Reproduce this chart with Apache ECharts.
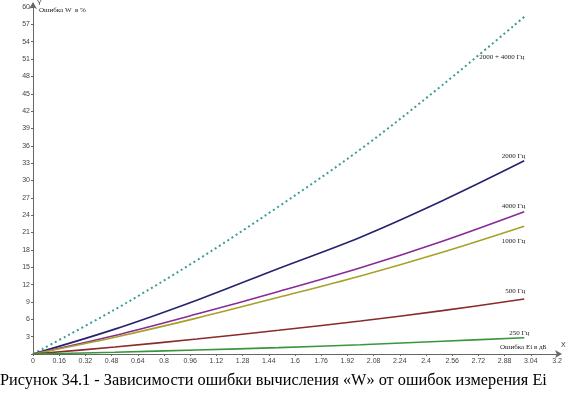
<!DOCTYPE html>
<html><head><meta charset="utf-8">
<script src="https://cdn.jsdelivr.net/npm/echarts@6/dist/echarts.min.js"></script>
<style>html,body{margin:0;padding:0;background:#fff}#c{width:568px;height:394px}</style>
</head><body><div id="c"></div>
<script>
const xValues = [0, 0.5, 1.0, 1.5, 2.0, 2.5, 3.0];
const s2000_4000 = [0, 7.7, 16.2, 25.5, 35.4, 46.5, 58.3];
const s2000 = [0, 4.3, 9.3, 14.8, 20.2, 26.5, 33.4];
const s4000 = [0, 3.2, 6.9, 10.8, 14.9, 19.5, 24.6];
const s1000 = [0, 2.9, 6.2, 9.8, 13.5, 17.6, 22.1];
const s500 = [0, 1.2, 2.6, 4.1, 5.7, 7.5, 9.5];
const s250 = [0, 0.3, 0.7, 1.1, 1.6, 2.2, 2.8];
const xTickLabels = ['0','0.16','0.32','0.48','0.64','0.8','0.96','1.12','1.28','1.44','1.6','1.76','1.92','2.08','2.24','2.4','2.56','2.72','2.88','3.04','3.2'];
const yTickLabels = ['','3','6','9','12','15','18','21','24','27','30','33','36','39','42','45','48','51','54','57','60'];

const pair = arr => xValues.map((x, i) => [x, arr[i]]);
const serif = '"Liberation Serif", "DejaVu Serif", serif';
const lblFont = {fontFamily: serif, fontSize: 7, color: '#222'};

function mk(name, data, color, lblText, offset, dotted) {
  return {
    type: 'line', name, data: pair(data), smooth: 0.35, symbol: 'none',
    lineStyle: {color, width: dotted ? 2 : 1.6, type: dotted ? [2, 3] : 'solid'},
    endLabel: {show: true, formatter: lblText, align: 'right', verticalAlign: 'middle',
      distance: 0, offset, ...lblFont},
    animation: false, z: 3
  };
}

const chart = echarts.init(document.getElementById('c'), null, {renderer: 'canvas'});
const axisCommon = {
  axisLine: {show: true, lineStyle: {color: '#666', width: 1}, symbol: ['none', 'arrow'], symbolSize: [6, 7], symbolOffset: [0, 5]},
  axisTick: {show: true, length: 2, lineStyle: {color: '#666'}},
  splitLine: {show: false},
  axisLabel: {fontSize: 7, color: '#444', fontFamily: '"Liberation Sans", Arial, sans-serif'}
};
chart.setOption({
  animation: false,
  backgroundColor: '#fff',
  grid: {left: 33, right: 11, top: 7, bottom: 40},
  xAxis: Object.assign({}, axisCommon, {
    type: 'value', min: 0, max: 3.2, interval: 0.16,
    axisLabel: Object.assign({}, axisCommon.axisLabel, {margin: 4,
      formatter: v => xTickLabels[Math.round(v / 0.16)]})
  }),
  yAxis: Object.assign({}, axisCommon, {
    type: 'value', min: 0, max: 60, interval: 3,
    axisLabel: Object.assign({}, axisCommon.axisLabel, {margin: 3,
      formatter: v => yTickLabels[Math.round(v / 3)]})
  }),
  series: [
    mk('2000 + 4000 Гц', s2000_4000, '#3e9a98', '2000 + 4000 Гц', [0, 40], true),
    mk('2000 Гц', s2000, '#25236e', '2000 Гц', [1, -5]),
    mk('4000 Гц', s4000, '#8a2a96', '4000 Гц', [1, -6]),
    mk('1000 Гц', s1000, '#a7a12a', '1000 Гц', [1, 15]),
    mk('500 Гц', s500, '#8a2a2a', '500 Гц', [1, -8]),
    mk('250 Гц', s250, '#3a963c', '250 Гц', [5, -5])
  ],
  graphic: [
    {type: 'text', left: 37, top: 0, style: {text: 'Y', font: '7px "Liberation Sans", sans-serif', fill: '#333'}},
    {type: 'text', left: 561, top: 342, style: {text: 'X', font: '7px "Liberation Sans", sans-serif', fill: '#333'}},
    {type: 'text', left: 39, top: 7, style: {text: 'Ошибка W  в %', font: '7px ' + serif, fill: '#222'}},
    {type: 'text', left: 500, top: 344, style: {text: 'Ошибка Ei в дБ', font: '7px ' + serif, fill: '#222'}},
    {type: 'text', left: 0, top: 373, style: {text: 'Рисунок 34.1 - Зависимости ошибки вычисления «W» от ошибок измерения Ei', font: '16.3px ' + serif, fill: '#000'}}
  ]
});
</script></body></html>
